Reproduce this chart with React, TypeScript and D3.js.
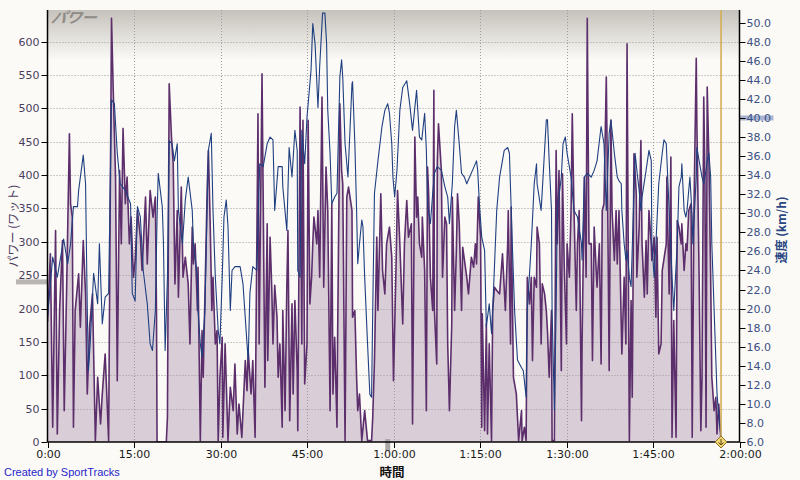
import React, { useRef, useEffect } from 'react';
import * as d3 from 'd3';

// [elapsed minutes, watts]
const powerData: [number, number][] = [
  [0, 180], [0.5, 282], [0.9, 22], [1.4, 317], [1.7, 12], [2.1, 197], [2.6, 302], [2.9, 47], [3.3, 222],
  [3.8, 462], [4.0, 357], [4.3, 337], [4.5, 22], [4.8, 197], [5.4, 252], [5.7, 172], [6.2, 302], [6.6, 222],
  [6.9, 72], [7.3, 172], [7.8, 222], [8.3, 2], [8.7, 97], [9.2, 27], [9.5, 72], [10.0, 132], [10.6, 2],
  [11.1, 635], [11.4, 527], [11.8, 397], [12.1, 92], [12.5, 407], [12.8, 297], [13.1, 470], [13.5, 357],
  [13.8, 397], [14.2, 297], [14.5, 337], [14.9, 247], [15.2, 272], [15.6, 347], [16.1, 307], [16.4, 257],
  [17.0, 367], [17.3, 267], [17.8, 377], [18.3, 337], [18.7, 367], [18.9, 197], [19.0, 0], [20.6, 0],
  [20.8, 37], [21.1, 537], [21.5, 457], [21.8, 417], [22.1, 237], [22.5, 347], [22.7, 217], [23.2, 382],
  [23.5, 247], [23.9, 277], [24.4, 237], [24.7, 147], [25.1, 322], [25.3, 267], [25.6, 297], [26.0, 197],
  [26.1, 262], [26.5, 2], [26.8, 167], [27.0, 97], [27.7, 382], [27.9, 437], [28.2, 332], [28.5, 197],
  [28.7, 247], [29.1, 147], [29.4, 167], [29.6, 2], [29.9, 97], [30.3, 157], [30.4, 7], [30.8, 147],
  [31.3, 2], [31.7, 82], [32.2, 47], [32.5, 117], [32.9, 12], [33.2, 57], [33.7, 7], [34.3, 122],
  [34.6, 77], [34.8, 137], [35.3, 72], [35.6, 122], [36.0, 7], [36.5, 492], [36.7, 147], [37.2, 552],
  [37.4, 367], [37.7, 82], [38.1, 327], [38.2, 122], [38.6, 307], [38.9, 227], [39.1, 147], [39.4, 235],
  [39.8, 187], [40.0, 97], [40.3, 147], [40.7, 22], [40.8, 197], [41.2, 47], [41.5, 232], [41.7, 317],
  [42.0, 32], [42.4, 207], [42.6, 72], [42.9, 212], [43.3, 107], [43.4, 17], [43.8, 502], [44.1, 147],
  [44.3, 482], [44.6, 87], [45.0, 147], [45.2, 482], [45.5, 207], [45.8, 247], [46.0, 297], [46.2, 337],
  [46.7, 297], [46.9, 347], [47.2, 247], [47.6, 517], [47.9, 232], [48.3, 412], [48.6, 347], [49.0, 47],
  [49.3, 357], [49.5, 72], [49.8, 157], [50.2, 22], [50.3, 147], [50.7, 507], [51.0, 407], [51.2, 387],
  [51.6, 2], [51.9, 367], [52.2, 382], [52.8, 347], [52.9, 187], [53.3, 197], [53.6, 97], [53.8, 47],
  [54.1, 72], [54.5, 2], [55.0, 47], [55.5, 2], [56.2, 2], [56.4, 37], [56.7, 122], [57.1, 307], [57.3, 197],
  [57.8, 372], [58.1, 257], [58.5, 222], [58.8, 297], [59.3, 322], [59.7, 277], [60.0, 92], [60.4, 247],
  [60.7, 377], [61.1, 297], [61.6, 177], [61.9, 297], [62.3, 362], [62.6, 307], [63.1, 327], [63.3, 27],
  [63.7, 457], [64.0, 337], [64.2, 367], [64.5, 297], [64.9, 277], [65.0, 337], [65.4, 257], [65.7, 47],
  [65.9, 412], [66.1, 372], [66.4, 247], [66.8, 197], [67.0, 527], [67.1, 197], [67.5, 117], [67.6, 422],
  [67.8, 477], [68.3, 407], [68.5, 247], [68.9, 337], [69.2, 327], [69.4, 147], [69.7, 47], [70.1, 177],
  [70.2, 367], [70.6, 197], [70.9, 287], [71.1, 372], [71.4, 327], [71.8, 197], [72.0, 292], [72.7, 247],
  [73.0, 222], [73.5, 277], [73.9, 262], [74.2, 297], [74.4, 267], [74.7, 367], [75.1, 307], [75.3, 22],
  [75.4, 192], [75.8, 17], [76.1, 177], [76.3, 12], [76.6, 147], [77.0, 2], [77.2, 197], [77.5, 232],
  [77.9, 227], [78.4, 222], [78.9, 282], [79.4, 197], [79.8, 297], [79.9, 347], [80.3, 147], [80.4, 352],
  [80.8, 97], [81.3, 72], [81.7, 2], [82.2, 47], [82.3, 2], [82.7, 22], [83.0, 2], [83.2, 247], [83.6, 207],
  [83.9, 247], [84.1, 122], [84.4, 247], [84.8, 232], [84.9, 322], [85.3, 297], [85.6, 147], [85.8, 237],
  [86.2, 222], [86.5, 197], [86.7, 167], [87.0, 97], [87.4, 197], [87.5, 2], [87.9, 2], [88.2, 437],
  [88.4, 297], [88.7, 407], [89.1, 107], [89.3, 402], [89.6, 267], [90.0, 147], [90.1, 297], [90.5, 247],
  [90.8, 352], [91.0, 492], [91.3, 347], [91.7, 197], [91.9, 297], [92.2, 347], [92.6, 32], [92.7, 147],
  [93.1, 397], [93.4, 247], [93.6, 635], [93.9, 297], [94.3, 297], [94.5, 122], [94.8, 322], [95.2, 247],
  [95.3, 232], [95.7, 297], [96.0, 117], [96.2, 347], [96.5, 357], [96.9, 547], [97.1, 397], [97.4, 107],
  [97.7, 482], [97.9, 347], [98.3, 272], [98.6, 347], [98.8, 267], [99.1, 347], [99.6, 132], [100.0, 247],
  [100.3, 147], [100.5, 597], [100.9, 2], [101.2, 212], [101.4, 67], [101.7, 432], [102.1, 372], [102.2, 247],
  [102.6, 322], [102.9, 452], [103.1, 297], [103.5, 217], [103.8, 302], [104.0, 222], [104.3, 347],
  [104.7, 297], [104.8, 272], [105.2, 307], [105.5, 187], [105.7, 307], [106.0, 132], [106.4, 147],
  [106.6, 257], [107.3, 297], [107.4, 397], [107.8, 222], [108.1, 427], [108.3, 7], [108.6, 182], [109.0, 7],
  [109.2, 332], [109.5, 322], [109.9, 297], [110.0, 327], [110.4, 257], [110.7, 297], [110.9, 287],
  [111.2, 347], [111.6, 357], [111.8, 7], [112.1, 347], [112.5, 575], [112.6, 482], [113.0, 247], [113.3, 17],
  [113.5, 97], [113.8, 517], [114.0, 397], [114.2, 22], [114.4, 532], [114.7, 422], [115.0, 247], [115.2, 97],
  [115.6, 47], [115.9, 67], [116.1, 12], [116.4, 57], [116.8, 0],
];

// [elapsed minutes, km/h]
const speedData: [number, number][] = [
  [0, 19.1], [0.9, 25.4], [1.7, 23.3], [2.8, 27.3], [3.5, 24.7], [4.0, 26.8], [4.5, 30.7], [5.2, 30.7],
  [5.4, 32.4], [6.2, 36.1], [6.6, 33.1], [6.9, 19.8], [7.1, 13.5], [7.4, 16.3], [8.0, 23.7], [8.7, 20.5],
  [9.0, 26.8], [9.5, 18.4], [10.0, 21.2], [10.6, 21.6], [11.1, 41.9], [11.6, 41.5], [12.1, 36.3], [12.6, 33.1],
  [13.5, 32.4], [14.4, 31.0], [14.7, 21.6], [15.2, 20.8], [15.6, 30.7], [16.1, 29.6], [16.6, 24.0],
  [17.3, 20.5], [17.8, 16.3], [18.2, 15.6], [18.7, 19.8], [19.0, 29.6], [19.2, 34.2], [19.9, 30.7],
  [20.1, 27.1], [20.4, 15.6], [20.8, 23.3], [21.1, 37.6], [21.6, 37.3], [22.0, 35.5], [22.5, 37.3],
  [22.7, 30.3], [23.4, 26.8], [23.9, 31.4], [24.4, 33.8], [25.1, 30.3], [25.3, 26.8], [26.0, 23.3],
  [26.1, 19.8], [26.5, 16.3], [26.8, 14.9], [27.3, 19.8], [27.9, 36.6], [28.4, 38.4], [28.7, 30.3],
  [29.1, 23.3], [29.6, 17.7], [29.9, 16.3], [30.3, 23.3], [30.6, 29.6], [31.0, 31.4], [31.3, 28.6],
  [31.7, 19.8], [32.0, 24.0], [32.5, 24.4], [33.4, 24.4], [33.9, 22.6], [34.6, 16.3], [34.8, 14.6],
  [35.1, 21.6], [35.6, 24.4], [36.3, 24.0], [36.8, 35.2], [37.4, 34.9], [38.1, 37.3], [38.6, 38.0],
  [39.1, 37.7], [39.4, 30.3], [40.0, 34.9], [40.7, 34.9], [40.8, 32.8], [41.5, 28.2], [41.9, 36.9],
  [42.4, 33.8], [42.9, 38.7], [43.3, 36.6], [43.4, 24.0], [43.8, 23.3], [44.1, 38.7], [44.6, 35.2],
  [45.0, 40.1], [45.2, 41.5], [45.7, 45.0], [46.0, 49.9], [46.4, 47.8], [46.9, 41.1], [47.2, 45.4],
  [47.7, 51.0], [48.1, 51.0], [48.4, 47.8], [48.6, 40.8], [49.0, 36.3], [49.3, 31.0], [49.8, 31.7],
  [50.2, 32.1], [50.7, 44.3], [51.0, 46.1], [51.2, 44.3], [51.6, 37.3], [52.1, 33.8], [52.8, 43.6],
  [52.9, 43.8], [53.3, 37.3], [53.6, 30.3], [53.8, 24.7], [54.1, 26.8], [54.5, 29.3], [54.7, 28.6],
  [55.0, 23.3], [55.5, 16.3], [55.9, 11.0], [56.2, 10.7], [56.4, 19.8], [56.7, 32.1], [57.3, 35.5],
  [58.0, 39.1], [58.5, 40.8], [59.0, 41.5], [59.3, 40.5], [59.7, 37.3], [59.9, 33.8], [60.2, 31.7],
  [60.6, 34.5], [61.1, 40.8], [61.6, 43.2], [62.3, 43.9], [62.8, 41.5], [63.3, 38.7], [64.0, 42.9],
  [64.5, 38.0], [64.9, 37.7], [65.4, 40.5], [65.7, 36.6], [65.9, 31.0], [66.4, 28.9], [66.8, 32.1],
  [67.1, 34.2], [67.6, 34.9], [68.3, 34.5], [68.9, 32.8], [69.4, 31.7], [69.7, 28.9], [70.2, 33.1],
  [70.6, 39.1], [70.9, 40.8], [71.4, 37.3], [71.8, 34.2], [72.3, 33.8], [72.7, 33.1], [73.2, 33.8],
  [73.7, 34.5], [74.4, 35.5], [74.6, 34.5], [74.9, 31.0], [75.3, 27.5], [75.8, 26.1], [76.1, 18.1],
  [76.6, 20.5], [77.0, 17.4], [77.2, 19.8], [77.9, 30.3], [78.4, 33.8], [79.2, 36.6], [79.8, 36.9],
  [80.1, 36.3], [80.6, 26.8], [81.0, 19.8], [81.5, 14.6], [82.2, 13.8], [82.5, 13.5], [83.0, 10.7],
  [83.2, 19.8], [83.9, 26.8], [84.4, 33.1], [84.8, 35.2], [84.9, 33.1], [85.6, 30.3], [86.0, 34.5],
  [86.5, 39.8], [86.7, 39.8], [87.0, 35.5], [87.4, 30.3], [87.5, 19.8], [87.9, 9.3], [88.2, 19.8],
  [88.4, 30.3], [89.1, 33.8], [89.4, 37.3], [89.8, 38.0], [90.1, 36.3], [90.8, 33.8], [91.3, 30.3],
  [91.9, 29.6], [92.6, 26.8], [92.7, 25.1], [93.1, 33.8], [93.6, 34.2], [94.3, 33.8], [94.8, 34.5],
  [95.3, 35.5], [96.0, 39.1], [96.2, 38.4], [96.5, 37.3], [96.9, 30.3], [97.4, 38.4], [97.7, 39.8],
  [98.3, 36.3], [98.8, 33.8], [99.1, 33.4], [99.5, 33.1], [99.6, 30.3], [100.0, 26.8], [100.3, 25.1],
  [100.5, 26.1], [100.9, 23.3], [101.2, 22.3], [101.6, 30.3], [101.9, 36.3], [102.2, 34.5], [102.6, 32.4],
  [102.9, 30.3], [103.1, 31.7], [103.8, 34.5], [104.3, 36.6], [104.7, 35.5], [104.8, 26.8], [105.2, 23.3],
  [105.5, 26.8], [105.7, 29.3], [106.0, 33.1], [106.6, 36.3], [106.9, 37.7], [107.3, 37.3], [107.4, 35.9],
  [107.8, 30.3], [108.3, 23.3], [108.6, 19.8], [109.2, 26.8], [109.5, 32.8], [109.9, 33.8], [110.0, 35.2],
  [110.4, 30.3], [110.7, 29.6], [110.9, 30.3], [111.4, 33.8], [111.8, 29.6], [111.9, 26.8], [112.5, 33.8],
  [112.6, 36.9], [113.0, 35.5], [113.5, 33.8], [113.8, 33.1], [114.2, 34.5], [114.4, 35.5], [114.7, 36.3],
  [115.0, 33.8], [115.2, 26.8], [115.6, 19.8], [115.9, 14.6], [116.1, 11.1], [116.4, 8.6], [116.8, 6.5],
];

const timeTicks = [0, 15, 30, 45, 60, 75, 90, 105, 120];
const powerTicks = [0, 50, 100, 150, 200, 250, 300, 350, 400, 450, 500, 550, 600];
const speedTicks = [6, 8, 10, 12, 14, 16, 18, 20, 22, 24, 26, 28, 30, 32, 34, 36, 38, 40, 42, 44, 46, 48, 50];

// cursor readouts shown on the axes
const cursorTime = 116.8;
const hoverTime = 59;
const hoverPower = 240;
const hoverSpeed = 40;

const BG = '#fbfaf6';
const POWER_LINE = '#5c2e6b';
const POWER_FILL = '#d5c9d4';
const SPEED_LINE = '#1f3f80';

const fmtTime = (m: number) => {
  const h = Math.floor(m / 60);
  const mm = String(m % 60).padStart(2, '0');
  return h > 0 ? `${h}:${mm}:00` : `${m % 60}:00`;
};

export default function App() {
  const svgRef = useRef<SVGSVGElement>(null);

  useEffect(() => {
    if (!svgRef.current) return;
    document.body.style.margin = '0';
    document.body.style.background = BG;

    const svg = d3.select(svgRef.current);
    svg.selectAll('*').remove();

    const plot = { left: 47.5, right: 739.5, top: 10, bottom: 442 };
    const font = '"DejaVu Sans", Verdana, sans-serif';

    const x = d3.scaleLinear().domain([0, 120]).range([plot.left, plot.right]);
    const yPow = d3.scaleLinear().domain([0, 647.5]).range([plot.bottom, plot.top]);
    const ySpd = d3.scaleLinear().domain([6, 51.33]).range([plot.bottom, plot.top]);

    const defs = svg.append('defs');
    const grad = defs.append('linearGradient')
      .attr('id', 'topShade').attr('gradientUnits', 'userSpaceOnUse')
      .attr('x1', 0).attr('x2', 0).attr('y1', plot.top).attr('y2', plot.top + 50);
    grad.append('stop').attr('offset', 0).attr('stop-color', '#c5c1bb');
    grad.append('stop').attr('offset', 1).attr('stop-color', BG);
    defs.append('clipPath').attr('id', 'plotClip').append('rect')
      .attr('x', plot.left).attr('y', plot.top)
      .attr('width', plot.right - plot.left).attr('height', plot.bottom - plot.top);

    svg.append('rect').attr('width', 800).attr('height', 480).attr('fill', BG);
    svg.append('rect')
      .attr('x', plot.left).attr('y', plot.top)
      .attr('width', plot.right - plot.left).attr('height', 60)
      .attr('fill', 'url(#topShade)');

    const g = svg.append('g').attr('clip-path', 'url(#plotClip)');

    // Power fill
    const area = d3.area<[number, number]>()
      .x(d => x(d[0]))
      .y0(yPow(0))
      .y1(d => yPow(d[1]));
    g.append('path').datum(powerData).attr('d', area).attr('fill', POWER_FILL).attr('opacity', 0.9);

    // grid
    g.selectAll('.grid-x')
      .data(timeTicks.slice(1, -1))
      .join('line')
      .attr('x1', d => Math.round(x(d)) + 0.5).attr('x2', d => Math.round(x(d)) + 0.5)
      .attr('y1', plot.top).attr('y2', plot.bottom)
      .attr('stroke', '#9c9c9c').attr('stroke-dasharray', '1,2');
    g.selectAll('.grid-y')
      .data(powerTicks.slice(1))
      .join('line')
      .attr('x1', plot.left).attr('x2', plot.right)
      .attr('y1', d => Math.round(yPow(d)) + 0.5).attr('y2', d => Math.round(yPow(d)) + 0.5)
      .attr('stroke', '#9c9c9c').attr('stroke-dasharray', '1,2');

    const powerLine = d3.line<[number, number]>().x(d => x(d[0])).y(d => yPow(d[1]));
    g.append('path').datum(powerData).attr('d', powerLine)
      .attr('fill', 'none').attr('stroke', POWER_LINE).attr('stroke-width', 1.6).attr('stroke-linejoin', 'round');

    const speedLine = d3.line<[number, number]>().x(d => x(d[0])).y(d => ySpd(d[1]));
    g.append('path').datum(speedData).attr('d', speedLine)
      .attr('fill', 'none').attr('stroke', SPEED_LINE).attr('stroke-width', 1.1).attr('stroke-linejoin', 'round');

    // cursor line
    svg.append('line')
      .attr('x1', x(cursorTime)).attr('x2', x(cursorTime))
      .attr('y1', plot.top).attr('y2', plot.bottom)
      .attr('stroke', '#d2ad55').attr('stroke-width', 1.6);

    // "パワー" watermark
    svg.append('text')
      .attr('x', plot.left + 3).attr('y', plot.top + 13)
      .attr('font-family', '"Noto Sans CJK JP", sans-serif').attr('font-size', 15)
      .attr('font-style', 'italic').attr('font-weight', 'bold').attr('fill', '#8e8a86')
      .attr('transform', `skewX(-12) translate(${(plot.top + 13) * Math.tan(12 * Math.PI / 180)},0)`)
      .text('パワー');

    // axis cursor bands
    svg.append('rect')
      .attr('x', 16).attr('y', yPow(hoverPower) - 2.5).attr('width', plot.left - 16).attr('height', 5)
      .attr('fill', '#b9b5b5');
    svg.append('rect')
      .attr('x', plot.right).attr('y', ySpd(hoverSpeed) - 2.5).attr('width', 34).attr('height', 5)
      .attr('fill', '#a9b6d3');
    svg.append('rect')
      .attr('x', x(hoverTime) - 2.5).attr('y', plot.bottom - 3).attr('width', 5).attr('height', 12)
      .attr('fill', '#aaa8a6');

    // left axis
    const left = svg.append('g');
    left.append('line').attr('x1', plot.left).attr('x2', plot.left).attr('y1', plot.top).attr('y2', plot.bottom)
      .attr('stroke', '#000').attr('stroke-width', 1.5);
    powerTicks.forEach(v => {
      const yy = Math.round(yPow(v)) + 0.5;
      left.append('line').attr('x1', plot.left - 6).attr('x2', plot.left).attr('y1', yy).attr('y2', yy)
        .attr('stroke', '#000');
      left.append('text').attr('x', plot.left - 8).attr('y', yy).attr('dy', '0.36em')
        .attr('text-anchor', 'end').attr('font-family', font).attr('font-size', 11)
        .attr('fill', '#4b3d5e').text(String(v));
    });

    // right axis
    const right = svg.append('g');
    right.append('line').attr('x1', plot.right).attr('x2', plot.right).attr('y1', plot.top).attr('y2', plot.bottom)
      .attr('stroke', '#000').attr('stroke-width', 1.5);
    speedTicks.forEach(v => {
      const yy = Math.round(ySpd(v)) + 0.5;
      right.append('line').attr('x1', plot.right).attr('x2', plot.right + 6).attr('y1', yy).attr('y2', yy)
        .attr('stroke', '#000');
      right.append('text').attr('x', plot.right + 7).attr('y', yy).attr('dy', '0.36em')
        .attr('font-family', font).attr('font-size', 11)
        .attr('fill', '#3b5083').text(v.toFixed(1));
    });

    // bottom axis
    const bottom = svg.append('g');
    bottom.append('line').attr('x1', plot.left).attr('x2', plot.right).attr('y1', plot.bottom).attr('y2', plot.bottom)
      .attr('stroke', '#000').attr('stroke-width', 1.5);
    timeTicks.forEach(t => {
      const xx = Math.round(x(t)) + 0.5;
      bottom.append('line').attr('x1', xx).attr('x2', xx).attr('y1', plot.bottom).attr('y2', plot.bottom + 6)
        .attr('stroke', '#000');
      bottom.append('text').attr('x', xx).attr('y', plot.bottom + 16)
        .attr('text-anchor', 'middle').attr('font-family', font).attr('font-size', 11)
        .attr('fill', '#1a1a1a').text(fmtTime(t));
    });

    // cursor diamond
    const cx = x(cursorTime);
    svg.append('path')
      .attr('d', `M${cx},${plot.bottom - 6}L${cx + 6},${plot.bottom}L${cx},${plot.bottom + 6}L${cx - 6},${plot.bottom}Z`)
      .attr('fill', '#f1d772').attr('stroke', '#8c6f24').attr('stroke-width', 1);
    svg.append('path')
      .attr('d', `M${cx},${plot.bottom - 3}V${plot.bottom + 3}M${cx - 2.5},${plot.bottom + 0.5}L${cx},${plot.bottom + 3}L${cx + 2.5},${plot.bottom + 0.5}`)
      .attr('fill', 'none').attr('stroke', '#5a4410').attr('stroke-width', 1);

    // axis titles
    svg.append('text')
      .attr('transform', `translate(14,226) rotate(-90)`)
      .attr('text-anchor', 'middle').attr('dy', '0.35em')
      .attr('font-family', '"Noto Sans CJK JP", sans-serif').attr('font-size', 12)
      .attr('fill', '#4b3d5e').text('パワー (ワット)');
    svg.append('text')
      .attr('transform', `translate(782,230) rotate(-90)`)
      .attr('text-anchor', 'middle').attr('dy', '0.35em')
      .attr('font-family', '"Noto Sans CJK JP", sans-serif').attr('font-size', 12).attr('font-weight', 'bold')
      .attr('fill', '#2a4682').text('速度 (km/h)');
    svg.append('text')
      .attr('x', 392).attr('y', 477).attr('text-anchor', 'middle')
      .attr('font-family', '"Noto Sans CJK JP", sans-serif').attr('font-size', 12.5).attr('font-weight', 'bold')
      .attr('fill', '#111').text('時間');

    svg.append('text')
      .attr('x', 4).attr('y', 476)
      .attr('font-family', '"Liberation Sans", Arial, sans-serif').attr('font-size', 11)
      .attr('fill', '#2626cc').text('Created by SportTracks');
  }, []);

  return <svg ref={svgRef} width={800} height={480} style={{ display: 'block' }} />;
}
